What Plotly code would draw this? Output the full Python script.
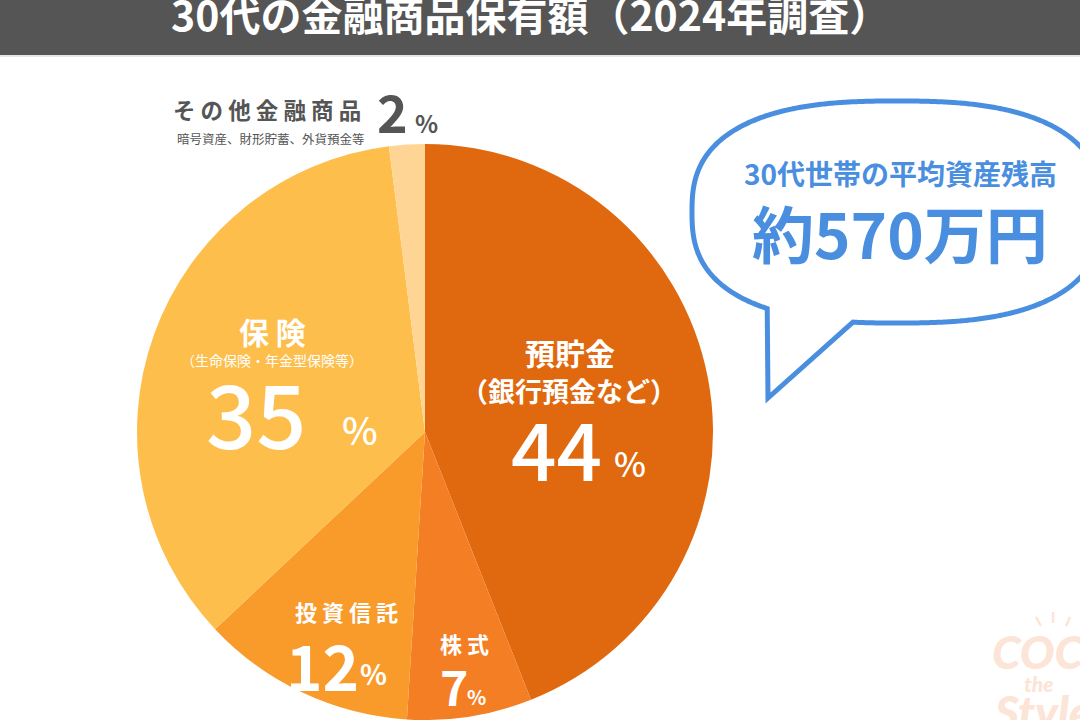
import numpy as np
import plotly.graph_objects as go

W, H = 1080, 720

# 30代の金融商品保有額（2024年調査）
labels = ["預貯金", "株式", "投資信託", "保険", "その他金融商品"]
shares = [44, 7, 12, 35, 2]
colors = ["#E0690F", "#F47E24", "#F99B2B", "#FDBE4C", "#FFD596"]

title = "30代の金融商品保有額（2024年調査）"
bubble_head = "30代世帯の平均資産残高"
bubble_value = "約570万円"

FONT = "Noto Sans CJK JP"
GRAY = "#555555"
BLUE = "#4A8EE0"
PALE = "#FCE4D6"


def px(x):
    return x / W


def py(y):
    return 1 - y / H


# pie geometry (pixels)
cx, r = 425, 288
top = 144

fig = go.Figure(go.Pie(
    labels=labels,
    values=shares,
    sort=False,
    direction="clockwise",
    rotation=0,
    marker=dict(colors=colors, line=dict(width=0)),
    textinfo="none",
    hoverinfo="label+percent",
    showlegend=False,
    domain=dict(x=[px(cx - r), px(cx + r)], y=[0, py(top)]),
))

shapes = []
# title bar
shapes.append(dict(type="rect", xref="paper", yref="paper", x0=0, x1=1,
                   y0=py(55), y1=1, fillcolor="#555555", line_width=0, layer="below"))
shapes.append(dict(type="rect", xref="paper", yref="paper", x0=0, x1=1,
                   y0=py(57), y1=py(55), fillcolor="#E6E6E6", line_width=0, layer="below"))

# speech bubble outline
bx, by, ba, bb, n = 897, 212, 205, 111, 2.6
tail_r, tail_l, tip = 853, 768, (768, 398)
pts = []
tail_done = False
for t in np.linspace(0, 2 * np.pi, 721):
    c, s = np.cos(t), np.sin(t)
    x = bx + ba * np.sign(c) * abs(c) ** (2 / n)
    y = by + bb * np.sign(s) * abs(s) ** (2 / n)
    if s > 0 and tail_l < x < tail_r:
        if not tail_done:
            pts.append((tail_r, y))
            pts.append(tip)
            tail_done = True
        continue
    pts.append((x, y))
path = "M " + " L ".join(f"{px(x):.5f},{py(y):.5f}" for x, y in pts) + " Z"
shapes.append(dict(type="path", xref="paper", yref="paper", path=path,
                   fillcolor="white", line=dict(color=BLUE, width=5)))

# watermark sparkles
for x0, y0, x1, y1 in [(1036, 617, 1041, 626), (1053, 612, 1053, 623), (1070, 617, 1066, 626)]:
    shapes.append(dict(type="line", xref="paper", yref="paper",
                       x0=px(x0), y0=py(y0), x1=px(x1), y1=py(y1),
                       line=dict(color=PALE, width=2.5)))


def note(text, x, y, size, color="white", weight="bold", family=FONT, xanchor="center", style="normal"):
    return dict(text=text, x=px(x), y=py(y), xref="paper", yref="paper",
                xanchor=xanchor, yanchor="middle", showarrow=False,
                font=dict(family=family, size=size, color=color, weight=weight, style=style))


def spaced(s):
    return " ".join(s)


ann = [
    note(title, 530, 13, 41),
    # その他
    note(spaced(labels[4]), 267, 109, 22.5, GRAY),
    note("暗号資産、財形貯蓄、外貨預金等", 271, 138, 12.5, GRAY, "normal"),
    note(str(shares[4]), 392, 110, 52, GRAY),
    note("%", 426, 122, 24, GRAY),
    # 保険
    note(spaced(labels[3]), 272, 331, 30),
    note("（生命保険・年金型保険等）", 272, 360, 14, "white", "normal"),
    note(str(shares[3]), 256, 410, 88, "white", 500),
    note("%", 360, 428, 38, "white", 500),
    # 預貯金
    note(labels[0], 570, 352, 30),
    note("（銀行預金など）", 569, 390, 27),
    note(str(shares[0]), 556, 446, 80, "white", 500),
    note("%", 630, 462, 34, "white", 500),
    # 投資信託
    note(spaced(labels[2]), 346, 611, 22),
    note(str(shares[2]), 322, 664, 62),
    note("%", 374, 673, 28),
    # 株式
    note(spaced(labels[1]), 464, 643, 22),
    note(str(shares[1]), 454, 685, 48),
    note("%", 476, 696, 20),
    # bubble
    note(bubble_head, 900, 173, 28, BLUE),
    note(bubble_value, 900, 232, 62, BLUE),
    # watermark
    note("COC", 990, 651, 46, PALE, 900, "Lato", "left", "italic"),
    note("the", 1022, 683, 21, PALE, 900, "Lato", "left", "italic"),
    note("Style", 992, 711, 46, PALE, 900, "Lato", "left", "italic"),
]

fig.update_layout(
    width=W,
    height=H,
    margin=dict(l=0, r=0, t=0, b=0),
    paper_bgcolor="white",
    plot_bgcolor="white",
    shapes=shapes,
    annotations=ann,
    font=dict(family=FONT),
)

fig.write_html("out.html", config={"displayModeBar": False},
               post_script="document.body.style.margin='0';")
